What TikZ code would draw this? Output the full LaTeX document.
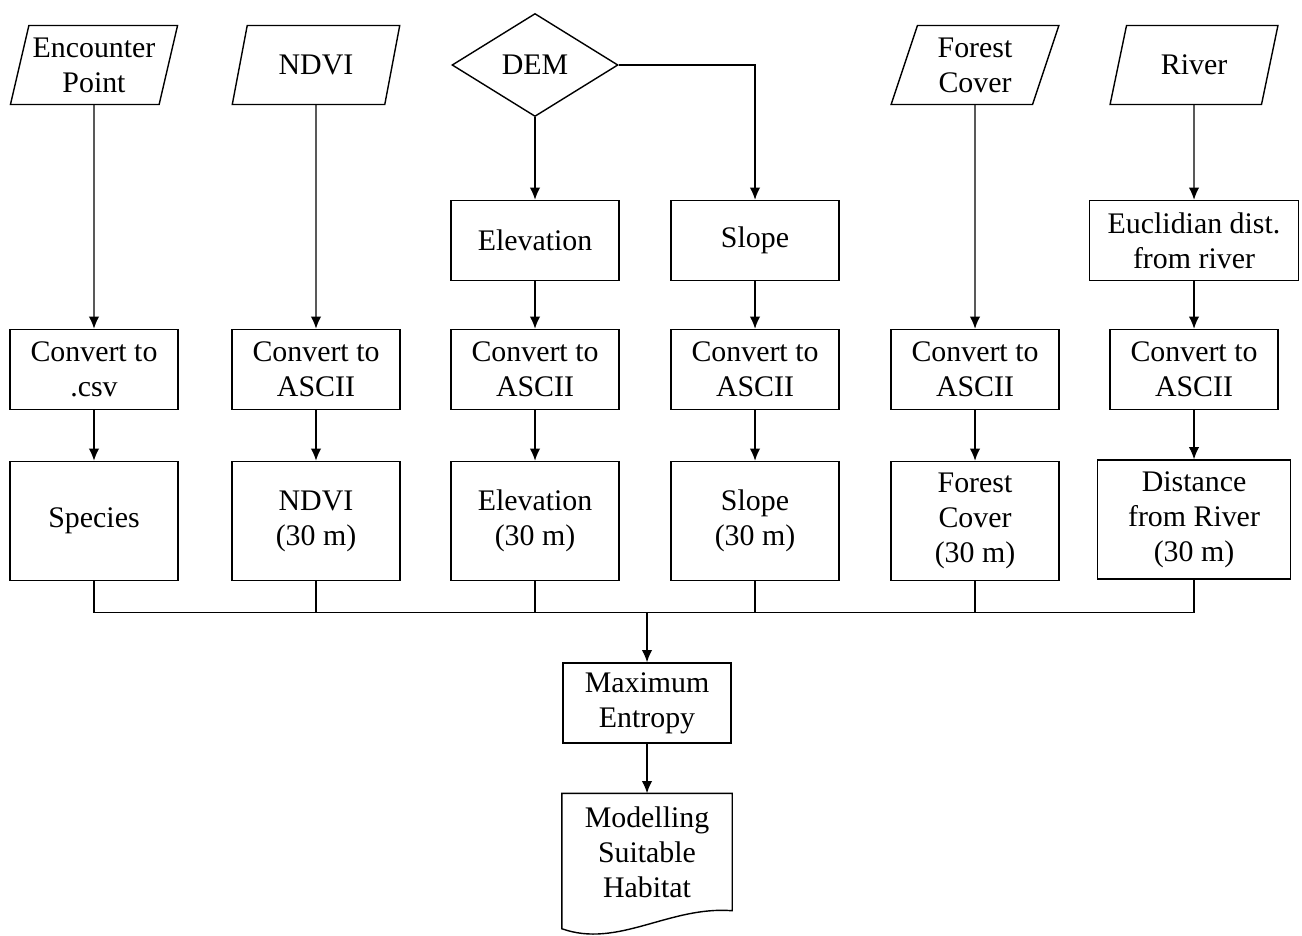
\documentclass[tikz,border=0pt]{standalone}
\usepackage{fontspec}
\setmainfont{Liberation Serif}
\usetikzlibrary{shapes, arrows.meta, positioning}

\tikzset{
  datain/.style = {draw, trapezium, trapezium left angle=75,
    trapezium right angle=105, trapezium stretches=true, inner xsep=1pt,
    minimum width=3.36cm, minimum height=1.58cm, align=center},
  decide/.style = {draw, diamond, inner sep=0pt,
    minimum width=3.32cm, minimum height=2.06cm},
  proc/.style = {draw, rectangle, minimum width=3.36cm,
    minimum height=1.6cm, align=center},
  layer/.style = {proc, minimum height=2.38cm},
}

\begin{document}
\begin{tikzpicture}[>={Latex[length=7pt,width=6pt]}, on grid, line width=0.8pt,
  font=\fontsize{17pt}{20pt}\selectfont]
  \useasboundingbox (0,0) rectangle (26.04,-18.7);

  \node[datain] (encounter) at (1.88,-1.3) {Encounter\\Point};
  \node[datain, right = 4.44cm of encounter] (ndvi) {NDVI};
  \node[decide, right = 4.38cm of ndvi] (dem) {DEM};
  \node[datain, right = 8.8cm of dem] (forest) {Forest\\Cover};
  \node[datain, right = 4.38cm of forest] (river) {River};

  \node[proc, below = 3.51cm of dem] (elev) {Elevation};
  \node[proc, right = 4.4cm of elev] (slope) {Slope};
  \node[proc, minimum width=4.18cm, below = 3.51cm of river] (eucl)
    {Euclidian dist.\\from river};

  \node[proc, below = 6.09cm of encounter] (csv) {Convert to\\.csv};
  \node[proc, below = 6.09cm of ndvi] (asciindvi) {Convert to\\ASCII};
  \node[proc, below = 2.58cm of elev] (asciielev) {Convert to\\ASCII};
  \node[proc, below = 2.58cm of slope] (asciislope) {Convert to\\ASCII};
  \node[proc, below = 6.09cm of forest] (asciiforest) {Convert to\\ASCII};
  \node[proc, below = 2.58cm of eucl] (asciiriver) {Convert to\\ASCII};

  \node[layer, below = 3.03cm of csv] (species) {Species};
  \node[layer, below = 3.03cm of asciindvi] (ndvi30) {NDVI\\(30 m)};
  \node[layer, below = 3.03cm of asciielev] (elev30) {Elevation\\(30 m)};
  \node[layer, below = 3.03cm of asciislope] (slope30) {Slope\\(30 m)};
  \node[layer, below = 3.03cm of asciiforest] (forest30) {Forest\\Cover\\(30 m)};
  \node[layer, minimum width=3.86cm, below = 3.0cm of asciiriver] (river30)
    {Distance\\from River\\(30 m)};

  \node[proc, below right = 3.64cm and 2.24cm of elev30] (maxent)
    {Maximum\\Entropy};
  \node[minimum width=3.38cm, minimum height=2.32cm, align=center,
    below = 2.98cm of maxent] (habitat) {Modelling\\Suitable\\Habitat};
  \draw (habitat.south west) -- (habitat.north west) -- (habitat.north east)
    -- (habitat.south east) .. controls +(-1.26,0.1) and +(1.12,-0.4)
    .. ([yshift=-0.36cm]habitat.south west) -- cycle;

  \coordinate[above = 1cm of maxent.north] (join);

  \draw[->] (encounter) -- (csv);
  \draw[->] (ndvi) -- (asciindvi);
  \draw[->] (dem) -- (elev);
  \draw[->] (dem) -| (slope);
  \draw[->] (forest) -- (asciiforest);
  \draw[->] (river) -- (eucl);

  \draw[->] (elev) -- (asciielev);
  \draw[->] (slope) -- (asciislope);
  \draw[->] (eucl) -- (asciiriver);

  \draw[->] (csv) -- (species);
  \draw[->] (asciindvi) -- (ndvi30);
  \draw[->] (asciielev) -- (elev30);
  \draw[->] (asciislope) -- (slope30);
  \draw[->] (asciiforest) -- (forest30);
  \draw[->] (asciiriver) -- (river30);

  \draw (species) -- (species |- join) -- (river30 |- join) -- (river30);
  \draw (ndvi30) -- (ndvi30 |- join);
  \draw (elev30) -- (elev30 |- join);
  \draw (slope30) -- (slope30 |- join);
  \draw (forest30) -- (forest30 |- join);

  \draw[->] (join) -- (maxent);
  \draw[->] (maxent) -- (habitat);
\end{tikzpicture}
\end{document}
